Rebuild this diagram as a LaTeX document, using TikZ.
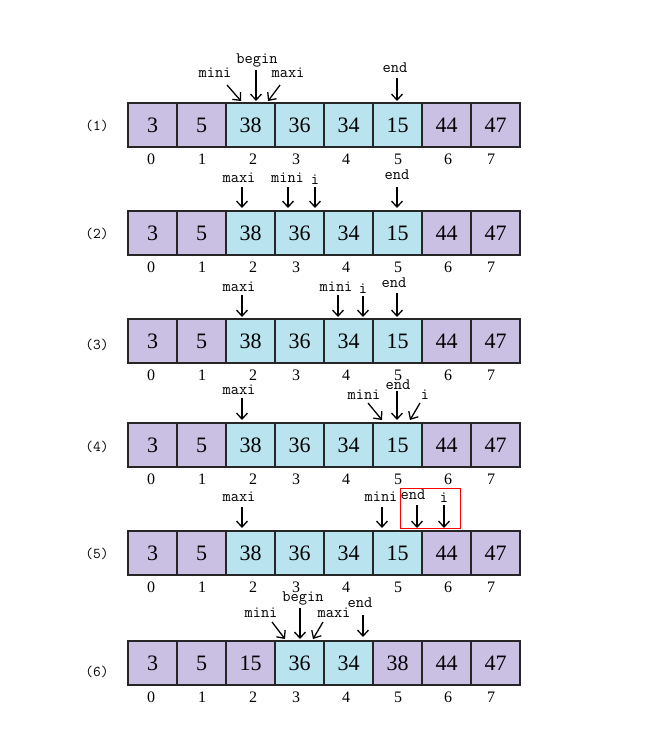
\documentclass[tikz,border=0pt]{standalone}
\usepackage{fontspec}
\setmainfont{Liberation Serif}
\usetikzlibrary{arrows.meta}
\definecolor{pur}{HTML}{C9C0E4}
\definecolor{cya}{HTML}{B8E3EF}
\newcommand\myrow[4]{%
  \foreach \v/\c [count=\k from 0] in {#3} {
    \node[cell, fill=\c] (r#1c\k) at ({152.5+49*\k}, {#2+22}) {\v};
  }
  \foreach \i/\ix in {0/151,1/202,2/253,3/296,4/346,5/398,6/448,7/491} {
    \node[idx] (r#1i\i) at (\ix, {#2+56}) {\i};
  }
  \node[rowlab] (r#1lab) at (97, #4) {(#1)};
}
\newcommand\mypointer[8]{%
  \node[plab] (#1) at (#3,#4) {#2};
  \coordinate (#1s) at (#5,#6);
  \coordinate (#1t) at (#7,#8);
  \draw[ptr] (#1s) -- (#1t);
}
\begin{document}
\begin{tikzpicture}[x=1pt,y=-1pt,
  cell/.style={draw=black!85, line width=1.6pt, minimum width=49pt, minimum height=44pt, inner sep=0pt, font=\fontsize{22}{22}\selectfont},
  idx/.style={font=\fontsize{16}{16}\selectfont, inner sep=0pt},
  rowlab/.style={font=\ttfamily\fontsize{15}{15}\selectfont, inner sep=0pt},
  plab/.style={font=\ttfamily\fontsize{16}{16}\selectfont, inner sep=0pt},
  ptr/.style={line width=1.3pt, -{Straight Barb[length=6pt,width=11pt,line width=1.3pt]}}]
\useasboundingbox[fill=white] (0,0) rectangle (666,751);

\myrow{1}{103}{3/pur,5/pur,38/cya,36/cya,34/cya,15/cya,44/pur,47/pur}{126}
\myrow{2}{211}{3/pur,5/pur,38/cya,36/cya,34/cya,15/cya,44/pur,47/pur}{234}
\myrow{3}{319}{3/pur,5/pur,38/cya,36/cya,34/cya,15/cya,44/pur,47/pur}{345}
\myrow{4}{423}{3/pur,5/pur,38/cya,36/cya,34/cya,15/cya,44/pur,47/pur}{447}
\myrow{5}{531}{3/pur,5/pur,38/cya,36/cya,34/cya,15/cya,44/pur,47/pur}{554}
\myrow{6}{641}{3/pur,5/pur,15/pur,36/cya,34/cya,38/pur,44/pur,47/pur}{672}

% row 1
\mypointer{pAb}{begin}{257}{60}{256}{70}{256}{101}
\mypointer{pAmi}{mini}{215}{73}{227}{85}{241}{101}
\mypointer{pAma}{maxi}{288}{73}{280}{85}{268}{101}
\mypointer{pAe}{end}{395}{68}{397}{78}{397}{101}
% row 2
\mypointer{pBma}{maxi}{239}{178}{242}{187}{242}{208}
\mypointer{pBmi}{mini}{287.5}{178}{288}{187}{288}{208}
\mypointer{pBi}{i}{315}{180}{315}{187}{315}{208}
\mypointer{pBe}{end}{397}{175}{397}{187}{397}{208}
% row 3
\mypointer{pCma}{maxi}{239}{287}{242}{295}{242}{317}
\mypointer{pCmi}{mini}{336}{287}{338}{295}{338}{317}
\mypointer{pCi}{i}{363}{289}{363}{296}{363}{317}
\mypointer{pCe}{end}{394}{283}{397}{293}{397}{317}
% row 4
\mypointer{pDma}{maxi}{239}{390}{242}{398}{242}{420}
\mypointer{pDmi}{mini}{364}{395}{368}{403}{382}{420}
\mypointer{pDe}{end}{398}{385}{397}{391}{397}{420}
\mypointer{pDi}{i}{425}{395}{420}{403}{410}{420}
% row 5
\mypointer{pEma}{maxi}{239}{497}{242}{507}{242}{528}
\mypointer{pEmi}{mini}{381}{497}{382}{507}{382}{528}
\mypointer{pEe}{end}{413}{495}{417}{505}{417}{528}
\mypointer{pEi}{i}{444}{498}{444}{505}{444}{528}
\node[draw=red, line width=1pt, minimum width=60pt, minimum height=40pt, inner sep=0pt] (hl) at (430,508) {};
% row 6
\mypointer{pFb}{begin}{303}{598}{300}{608}{300}{639}
\mypointer{pFmi}{mini}{261}{613}{272}{622}{285}{639}
\mypointer{pFma}{maxi}{334}{613}{323}{622}{313}{639}
\mypointer{pFe}{end}{360}{603}{363}{615}{363}{637}
\end{tikzpicture}
\end{document}
